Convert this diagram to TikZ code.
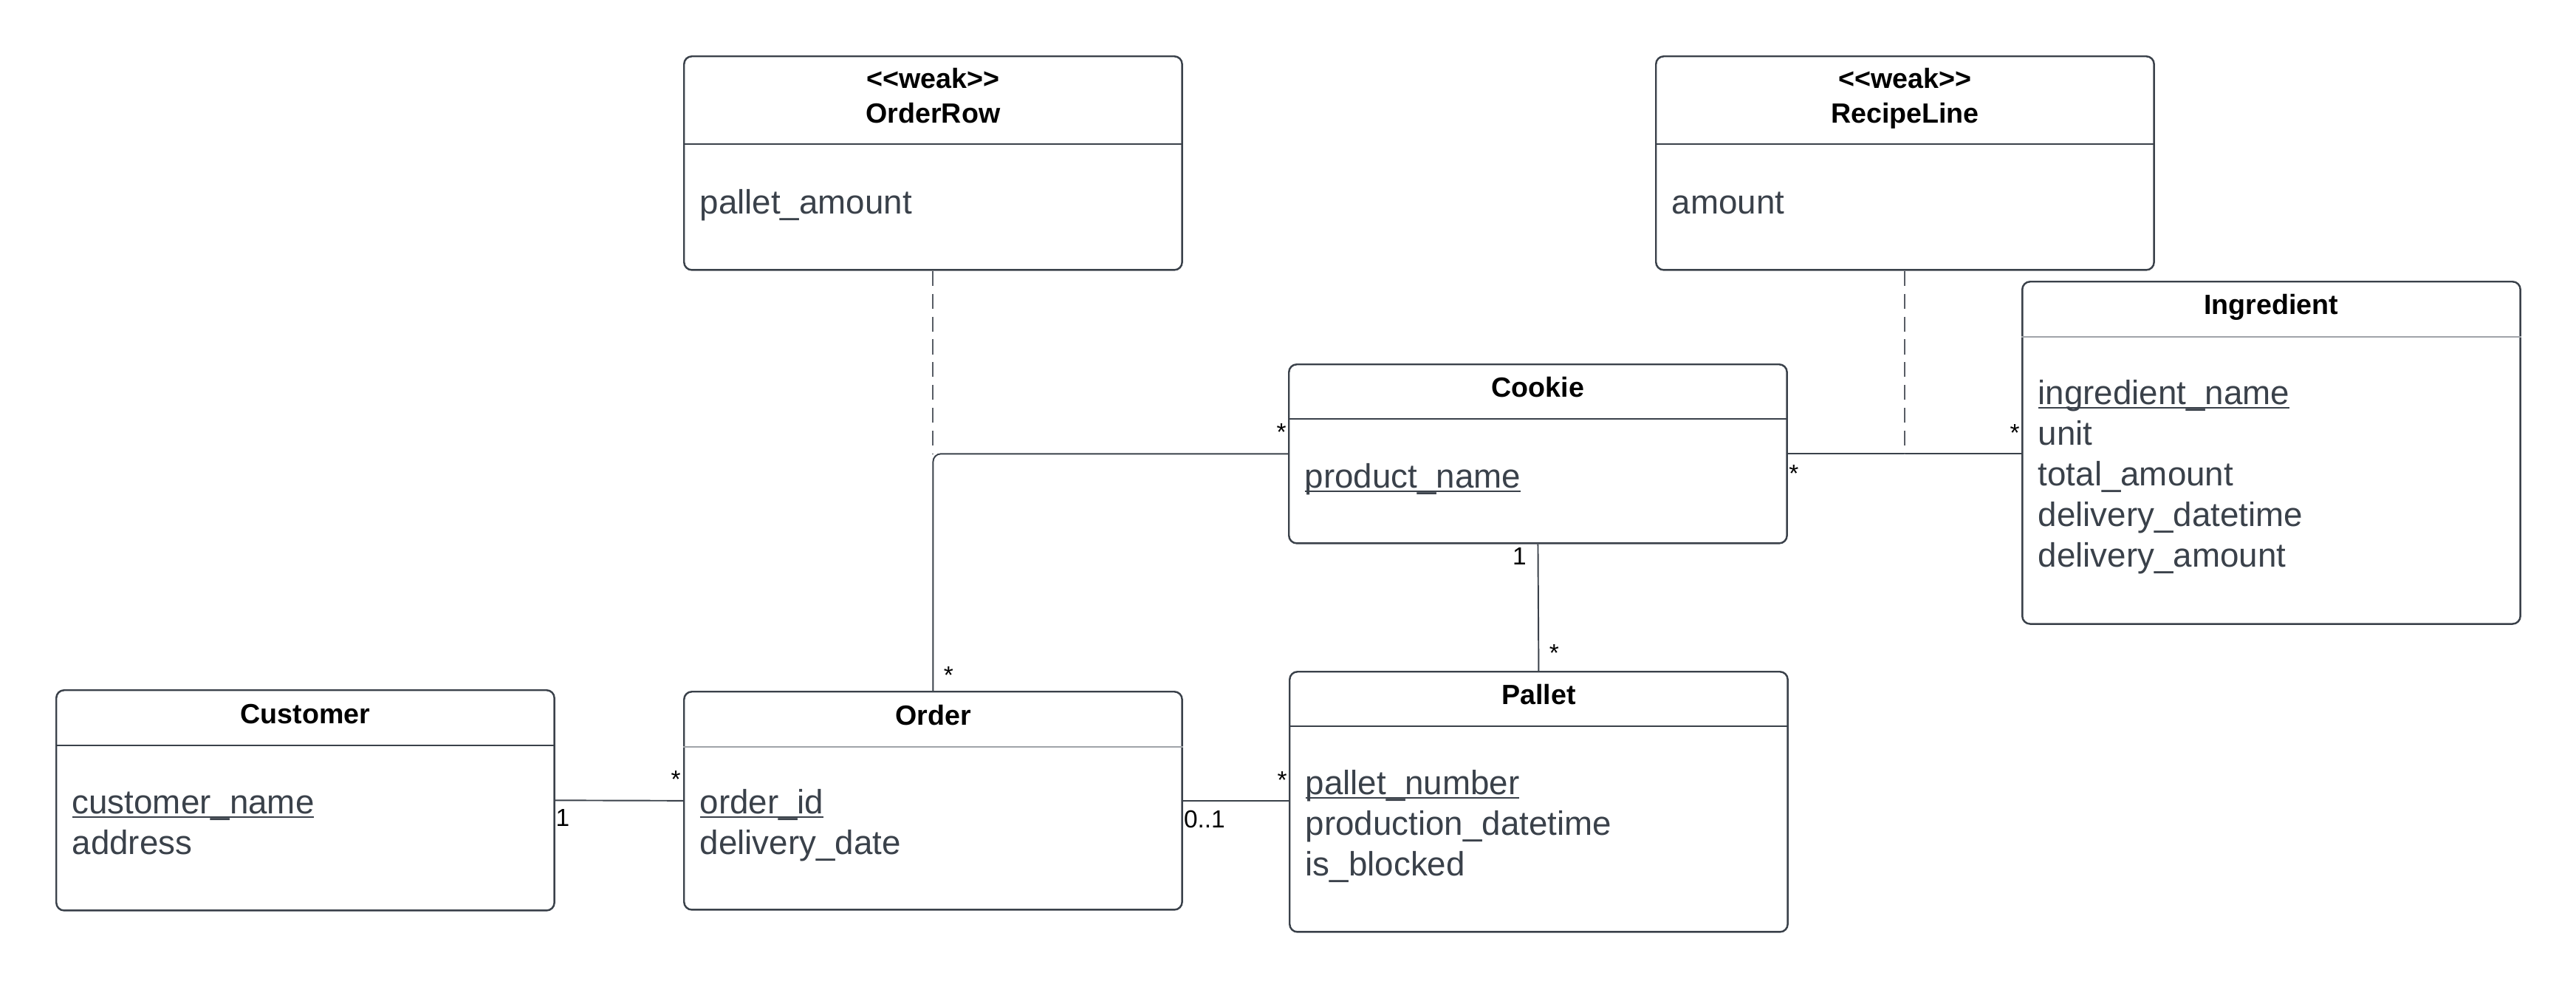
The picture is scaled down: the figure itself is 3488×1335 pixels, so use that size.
\documentclass[tikz,border=0pt]{standalone}
\usepackage{fontspec}
\setmainfont{Liberation Sans}
\usepackage{tikz}
\usetikzlibrary{positioning}
\definecolor{umlline}{HTML}{3A414A}
\definecolor{umltext}{HTML}{3A414A}
\definecolor{umlsep}{HTML}{A0A4A9}
\definecolor{umldash}{HTML}{585D65}
\newcommand{\pkey}[1]{\underline{\smash{#1}}}

\begin{document}
\begin{tikzpicture}[x=0.01cm,y=-0.01cm,
  classbox/.style={draw=umlline,line width=0.7pt,rounded corners=3pt,minimum width=6.74cm,inner sep=0pt,anchor=north west},
  divider/.style={draw=umlline,line width=0.7pt},
  lightdivider/.style={draw=umlsep,line width=0.45pt},
  classname/.style={font=\fontsize{10.7pt}{13pt}\selectfont\bfseries,anchor=base,inner sep=0pt},
  attr/.style={font=\fontsize{13pt}{15.6pt}\selectfont,text=umltext,anchor=base west,inner sep=0pt},
  mult/.style={font=\fontsize{9.5pt}{11pt}\selectfont,anchor=base,inner sep=0pt},
  assoc/.style={draw=umlline,line width=0.55pt},
  assocclass/.style={draw=umldash,line width=0.55pt,dash pattern=on 5.7pt off 3.1pt}]
 \useasboundingbox (0,0) rectangle (3488,1335);

 % classes
 \node[classbox,minimum height=2.89cm] (orderrow) at (925,75) {};
 \draw[divider] ([yshift=-1.20cm]orderrow.north west) -- ([yshift=-1.20cm]orderrow.north east);
 \node[classname] (orderrowtype) at ([yshift=-0.44cm]orderrow.north) {{<}{<}weak{>}{>}};
 \node[classname] (orderrowname) at ([yshift=-0.91cm]orderrow.north) {OrderRow};
 \node[attr] (orderrowamount) at ([xshift=0.22cm,yshift=-2.14cm]orderrow.north west) {pallet\_amount};

 \node[classbox,minimum height=2.89cm] (recipeline) at (2241,75) {};
 \draw[divider] ([yshift=-1.20cm]recipeline.north west) -- ([yshift=-1.20cm]recipeline.north east);
 \node[classname] (recipelinetype) at ([yshift=-0.44cm]recipeline.north) {{<}{<}weak{>}{>}};
 \node[classname] (recipelinename) at ([yshift=-0.91cm]recipeline.north) {RecipeLine};
 \node[attr] (recipelineamount) at ([xshift=0.22cm,yshift=-2.14cm]recipeline.north west) {amount};

 \node[classbox,minimum height=4.63cm] (ingredient) at (2737,380) {};
 \draw[lightdivider] ([yshift=-0.76cm]ingredient.north west) -- ([yshift=-0.76cm]ingredient.north east);
 \node[classname] (ingredientname) at ([yshift=-0.455cm]ingredient.north) {Ingredient};
 \node[attr] (ingredientkey) at ([xshift=0.22cm,yshift=-1.67cm]ingredient.north west) {\pkey{ingredient\_name}};
 \node[attr,below=0.55cm of ingredientkey.base west,anchor=base west] (ingredientunit) {unit};
 \node[attr,below=0.55cm of ingredientunit.base west,anchor=base west] (ingredienttotal) {total\_amount};
 \node[attr,below=0.55cm of ingredienttotal.base west,anchor=base west] (ingredientdate) {delivery\_datetime};
 \node[attr,below=0.55cm of ingredientdate.base west,anchor=base west] (ingredientdelivered) {delivery\_amount};

 \node[classbox,minimum height=2.42cm] (cookie) at (1744,492) {};
 \draw[divider] ([yshift=-0.75cm]cookie.north west) -- ([yshift=-0.75cm]cookie.north east);
 \node[classname] (cookiename) at ([yshift=-0.45cm]cookie.north) {Cookie};
 \node[attr] (cookiekey) at ([xshift=0.22cm,yshift=-1.68cm]cookie.north west) {\pkey{product\_name}};

 \node[classbox,minimum height=2.98cm] (customer) at (75,933) {};
 \draw[divider] ([yshift=-0.76cm]customer.north west) -- ([yshift=-0.76cm]customer.north east);
 \node[classname] (customername) at ([yshift=-0.46cm]customer.north) {Customer};
 \node[attr] (customerkey) at ([xshift=0.22cm,yshift=-1.68cm]customer.north west) {\pkey{customer\_name}};
 \node[attr,below=0.55cm of customerkey.base west,anchor=base west] (customeraddress) {address};

 \node[classbox,minimum height=2.95cm] (order) at (925,935) {};
 \draw[lightdivider] ([yshift=-0.76cm]order.north west) -- ([yshift=-0.76cm]order.north east);
 \node[classname] (ordername) at ([yshift=-0.46cm]order.north) {Order};
 \node[attr] (orderkey) at ([xshift=0.22cm,yshift=-1.66cm]order.north west) {\pkey{order\_id}};
 \node[attr,below=0.55cm of orderkey.base west,anchor=base west] (orderdate) {delivery\_date};

 \node[classbox,minimum height=3.52cm] (pallet) at (1745,908) {};
 \draw[divider] ([yshift=-0.75cm]pallet.north west) -- ([yshift=-0.75cm]pallet.north east);
 \node[classname] (palletname) at ([yshift=-0.45cm]pallet.north) {Pallet};
 \node[attr] (palletkey) at ([xshift=0.22cm,yshift=-1.67cm]pallet.north west) {\pkey{pallet\_number}};
 \node[attr,below=0.55cm of palletkey.base west,anchor=base west] (palletdate) {production\_datetime};
 \node[attr,below=0.55cm of palletdate.base west,anchor=base west] (palletblocked) {is\_blocked};

 % associations
 \draw[assoc] (customer.east) -- (order.west);
 \draw[assoc] (order.east) -- (order.east -| pallet.west);
 \draw[assoc,rounded corners=3pt] (order.north) |- (cookie.west);
 \draw[assoc] (cookie.east) -- (cookie.east -| ingredient.west);
 \draw[assoc] (cookie.south) -- (pallet.north);
 \draw[assocclass] (orderrow.south) -- (orderrow.south |- cookie.west);
 \draw[assocclass] (recipeline.south) -- (recipeline.south |- cookie.east);

 % multiplicities
 \node[mult] (customerone) at ([shift={(10,35)}]customer.east) {1};
 \node[mult] (ordermany) at ([shift={(-10,-17)}]order.west) {*};
 \node[mult] (orderoptional) at ([shift={(29,37)}]order.east) {0..1};
 \node[mult] (palletmany) at ([shift={(-9,-16)}]order.east -| pallet.west) {*};
 \node[mult] (ordercookiemany) at ([shift={(21,-10)}]order.north) {*};
 \node[mult] (cookieordermany) at ([shift={(-9,-18)}]cookie.west) {*};
 \node[mult] (cookieingmany) at ([shift={(8,38)}]cookie.east) {*};
 \node[mult] (ingredientmany) at ([shift={(-9,-17)}]cookie.east -| ingredient.west) {*};
 \node[mult] (cookieone) at ([shift={(-25,28)}]cookie.south) {1};
 \node[mult] (palletcookiemany) at ([shift={(21,-13)}]pallet.north) {*};
\end{tikzpicture}
\end{document}
